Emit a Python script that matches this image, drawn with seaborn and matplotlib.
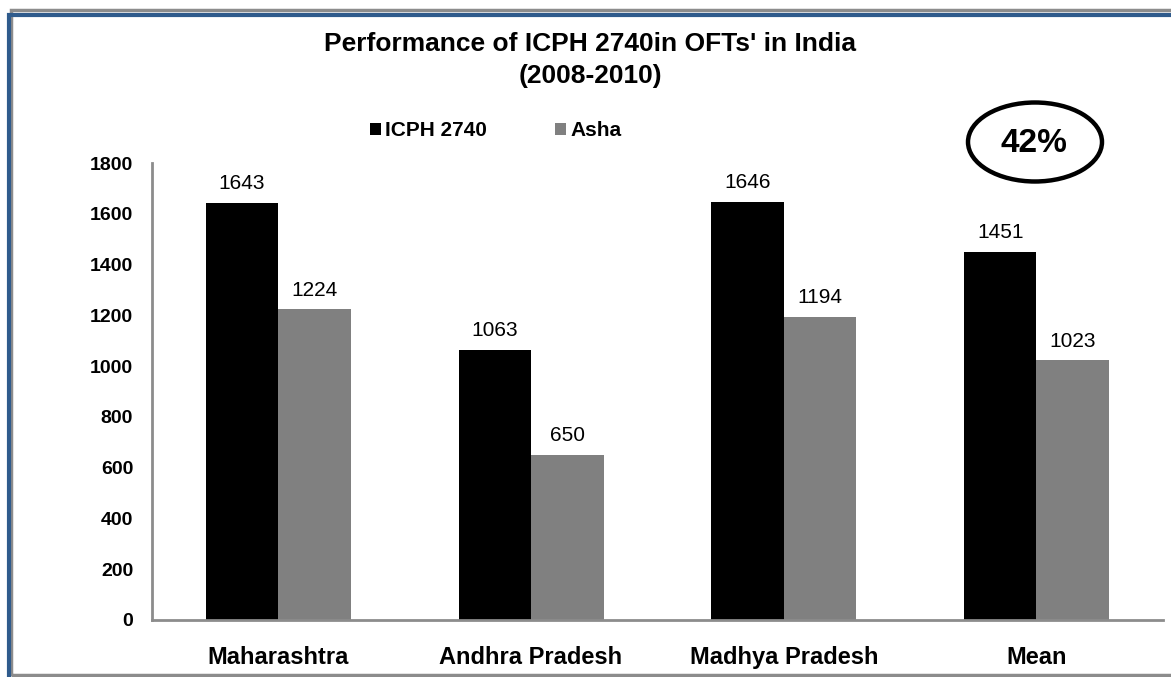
import pandas as pd
import seaborn as sns
import matplotlib.pyplot as plt
from matplotlib.patches import Ellipse, Rectangle

# values
regions = ["Maharashtra", "Andhra Pradesh", "Madhya Pradesh", "Mean"]
icph_2740 = [1643, 1063, 1646, 1451]
asha = [1224, 650, 1194, 1023]
yticks = [0, 200, 400, 600, 800, 1000, 1200, 1400, 1600, 1800]

df = pd.DataFrame({"Region": regions, "ICPH 2740": icph_2740, "Asha": asha})
df_long = pd.melt(df, id_vars=["Region"], var_name="Variety", value_name="Yield")

sns.set_style("white")
plt.rcParams["font.family"] = ["Liberation Sans", "DejaVu Sans"]
plt.rcParams["text.color"] = "black"
plt.rcParams["xtick.color"] = "black"
plt.rcParams["ytick.color"] = "black"

fig = plt.figure(figsize=(11.71, 6.77), dpi=100)
ax = fig.add_axes([0.1298, 0.0842, 0.8632, 0.675])

sns.barplot(
    data=df_long, x="Region", y="Yield", hue="Variety",
    palette={"ICPH 2740": "#000000", "Asha": "#808080"},
    width=0.574, saturation=1, linewidth=0, ax=ax, legend=True,
)

for container in ax.containers:
    ax.bar_label(container, fmt="%d", padding=7, fontsize=15, color="black")

ax.set_ylim(0, 1800)
ax.set_yticks(yticks)
ax.set_xlim(-0.5, 3.5)
ax.set_xlabel("")
ax.set_ylabel("")
ax.tick_params(axis="y", length=0, pad=13.5, labelsize=14)
ax.tick_params(axis="x", length=0, pad=19, labelsize=17)
for lbl in ax.get_yticklabels() + ax.get_xticklabels():
    lbl.set_fontweight("bold")

for side in ["top", "right"]:
    ax.spines[side].set_visible(False)
for side in ["left", "bottom"]:
    ax.spines[side].set_color("#8c8c8c")
    ax.spines[side].set_linewidth(2)

ax.legend(
    loc="center left", bbox_to_anchor=(351 / 1171, 0.807), bbox_transform=fig.transFigure,
    ncol=2, frameon=False, handlelength=0.55, handleheight=0.55,
    handletextpad=0.2, columnspacing=3.25, prop={"weight": "bold", "size": 15},
)

fig.text(0.504, 1 - 44 / 677, "Performance of ICPH 2740in OFTs' in India",
         ha="center", va="center", fontsize=19, fontweight="bold")
fig.text(0.504, 1 - 76 / 677, "(2008-2010)",
         ha="center", va="center", fontsize=19, fontweight="bold")

# circled percentage
fig.patches.append(Ellipse((1035 / 1171, 1 - 142 / 677), 134 / 1171, 79 / 677,
                           transform=fig.transFigure, fill=False,
                           edgecolor="black", linewidth=3.2))
fig.text(1034 / 1171, 1 - 143 / 677, "42%", ha="center", va="center",
         fontsize=24, fontweight="bold")

# slide frame: grey outline and blue top/left rule
fig.patches.append(Rectangle((11 / 1171, 2 / 677), 1.0, 1 - 12 / 677,
                             transform=fig.transFigure, fill=False,
                             edgecolor="#8c8c8c", linewidth=2.5))
fig.patches.append(Rectangle((8.5 / 1171, -0.1), 1.1, 1 + 0.1 - 15.5 / 677,
                             transform=fig.transFigure, fill=False,
                             edgecolor="#2f5b8c", linewidth=3))

fig.savefig("out.png", dpi=100)
